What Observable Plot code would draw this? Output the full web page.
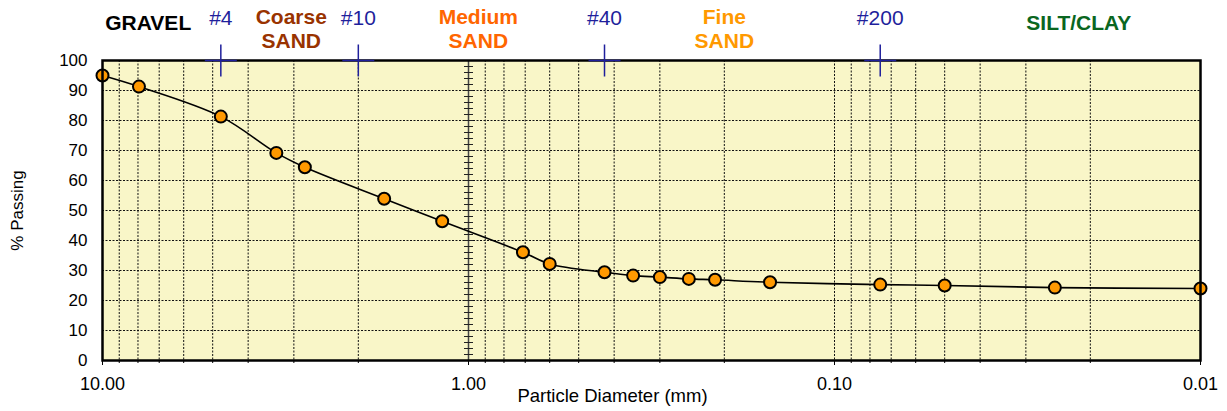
<!DOCTYPE html>
<html><head><meta charset="utf-8">
<script src="https://cdn.jsdelivr.net/npm/d3@7"></script>
<script src="https://cdn.jsdelivr.net/npm/@observablehq/plot@0.6"></script>
<style>
body{margin:0;background:#fff;}
#chart svg{display:block;}
</style>
</head><body><div id="chart"></div>
<script>
// ---- data ----
const diameter = [10, 7.95, 4.75, 3.35, 2.8, 1.7, 1.18, 0.71, 0.6, 0.425, 0.355, 0.3, 0.25, 0.212, 0.15, 0.075, 0.05, 0.025, 0.01];
const passing  = [95, 91.3, 81.3, 69.2, 64.4, 53.9, 46.4, 36.1, 32.2, 29.4, 28.3, 27.8, 27.2, 26.9, 26.1, 25.3, 25.0, 24.3, 24.0];
const sieveNames = ["#4", "#10", "#40", "#200"];
const sieveSizes = [4.75, 2, 0.425, 0.075];
const zoneNames = ["GRAVEL", "Coarse\nSAND", "Medium\nSAND", "Fine\nSAND", "SILT/CLAY"];
const zoneCenters = [7.5, 3.05, 0.94, 0.2, 0.0215];
const zoneColors = ["#000000", "#993300", "#ff6600", "#ff9900", "#0a6620"];
const xTicks = [10, 1, 0.1, 0.01];
const xTickLabels = ["10.00", "1.00", "0.10", "0.01"];
const yTicks = [0, 10, 20, 30, 40, 50, 60, 70, 80, 90, 100];

const points = diameter.map((d, i) => ({d, p: passing[i]}));
// minor log gridlines (2..9 in each decade) plus 0.1
const gridX = [];
for (const base of [1, 0.1, 0.01]) for (let k = 2; k <= 9; k++) gridX.push(+(base * k).toPrecision(3));
gridX.push(0.1);
const gridY = yTicks.filter(v => v > 0 && v < 100);
const minorY = d3.range(0, 101, 2);

const navy = "#1f1f9c";
const crossSymbol = {draw(ctx, size) {const r = Math.sqrt(size / Math.PI); ctx.moveTo(-r, 0); ctx.lineTo(r, 0); ctx.moveTo(0, -r); ctx.lineTo(0, r);}};
const dashSymbol = {draw(ctx, size) {const r = Math.sqrt(size / Math.PI); ctx.moveTo(-r, 0); ctx.lineTo(r, 0);}};

const zoneMarks = zoneNames.map((name, i) => Plot.text([zoneCenters[i]], {
  x: d => d, text: () => name, frameAnchor: "top", lineAnchor: "middle", textAnchor: "middle",
  dy: name.includes("\n") ? -32 : -38, lineHeight: 1.12,
  fill: zoneColors[i], fontWeight: "bold", fontSize: 21
}));

const chart = Plot.plot({
  width: 1227, height: 411,
  marginLeft: 102, marginRight: 27, marginTop: 60, marginBottom: 51,
  style: {fontFamily: "'Liberation Sans', Arial, sans-serif", fontSize: "17px", color: "black", background: "white"},
  x: {type: "log", domain: [10, 0.01]},
  y: {domain: [0, 100]},
  marks: [
    Plot.frame({fill: "#f9f6c8", stroke: "none"}),
    Plot.ruleX(gridX, {stroke: "#111", strokeDasharray: "2,1.5", strokeWidth: 1}),
    Plot.ruleY(gridY, {stroke: "#111", strokeDasharray: "2,1.5", strokeWidth: 1}),
    Plot.ruleX([1], {stroke: "#444", strokeWidth: 1.5}),
    Plot.dot(minorY, {x: () => 1, y: d => d, symbol: dashSymbol, r: 4.5, stroke: "#222", strokeWidth: 1, fill: "none"}),
    Plot.line(points, {x: "d", y: "p", stroke: "black", strokeWidth: 1.6, curve: "catmull-rom"}),
    Plot.dot(points, {x: "d", y: "p", r: 6, fill: "#ff9900", stroke: "black", strokeWidth: 2}),
    Plot.frame({stroke: "black", strokeWidth: 2.5}),
    Plot.axisX(gridX, {tickSize: 3, tickFormat: () => "", label: null}),
    Plot.axisX(xTicks, {tickSize: 5, tickPadding: 12, tickFormat: d => xTickLabels[xTicks.indexOf(d)], fontSize: 18, label: null}),
    Plot.axisY(yTicks, {tickSize: 0, tickPadding: 15, fontSize: 17, label: null}),
    Plot.text(["% Passing"], {frameAnchor: "left", textAnchor: "middle", lineAnchor: "middle", rotate: -90, dx: -85, fontSize: 17}),
    Plot.text(["Particle Diameter (mm)"], {frameAnchor: "bottom", textAnchor: "middle", lineAnchor: "middle", dx: -39, dy: 36, fontSize: 18.5}),
    Plot.dot(sieveSizes, {x: d => d, frameAnchor: "top", symbol: crossSymbol, r: 16, stroke: navy, strokeWidth: 1.5, fill: "none"}),
    Plot.text(sieveSizes, {x: d => d, text: (d, i) => sieveNames[i], frameAnchor: "top", lineAnchor: "middle", textAnchor: "middle", dy: -42, fill: navy, fontSize: 21}),
    ...zoneMarks
  ]
});
document.getElementById("chart").appendChild(chart);
</script>
</body></html>
